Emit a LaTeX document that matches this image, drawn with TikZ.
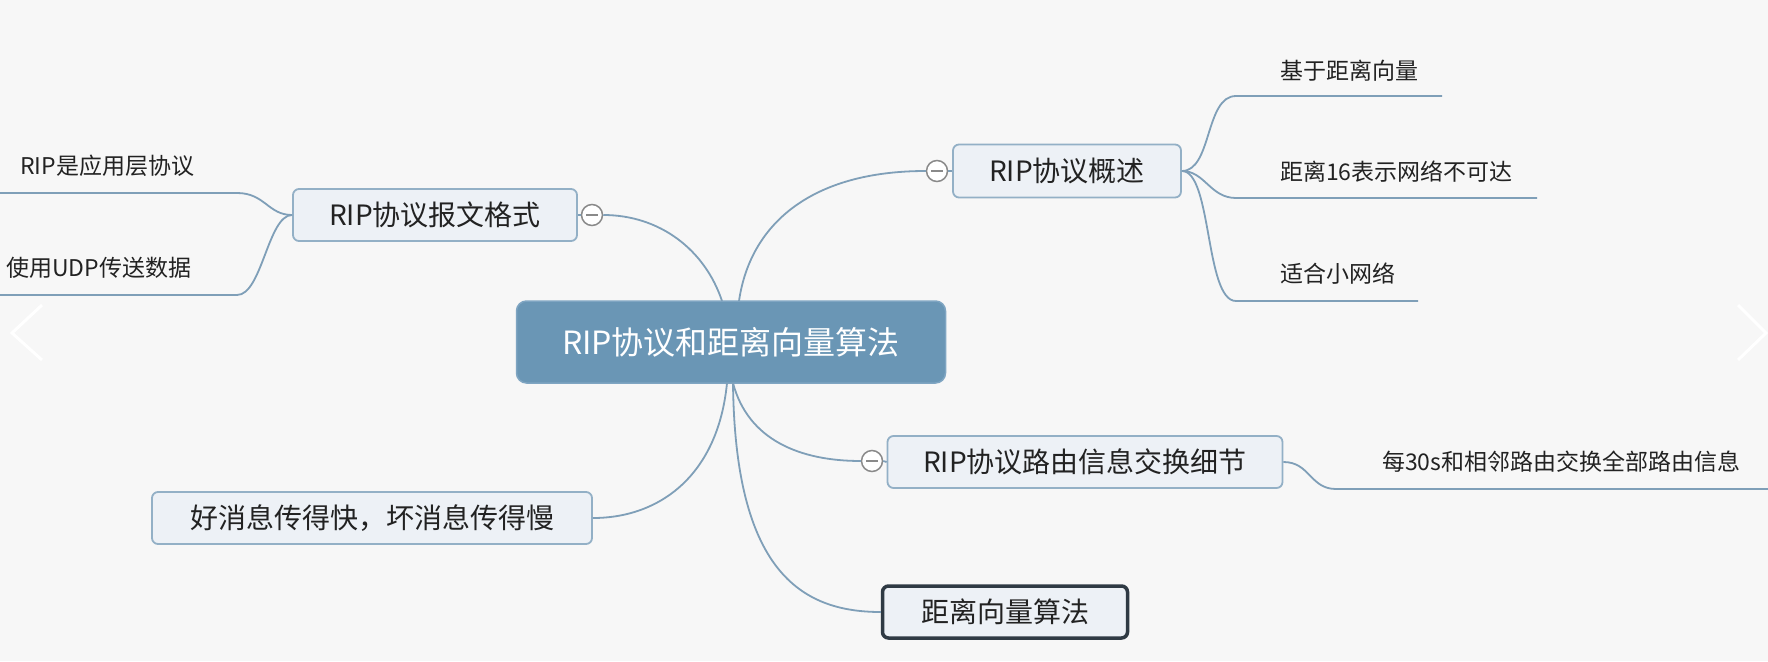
\documentclass[tikz,border=0pt]{standalone}
\usepackage{fontspec}
\newfontfamily\cjk{Noto Sans CJK SC}
\definecolor{bgc}{HTML}{F7F7F7}
\definecolor{conncol}{HTML}{7F9FB8}
\definecolor{nodefill}{HTML}{EDF1F6}
\definecolor{nodeborder}{HTML}{93B0C6}
\definecolor{centerfill}{HTML}{6A96B5}
\definecolor{centerborder}{HTML}{7FA5C2}
\definecolor{darkborder}{HTML}{2F3A44}
\definecolor{txt}{HTML}{222222}
\definecolor{circcol}{HTML}{8A8A8A}
\tikzset{
  conn/.style={draw=conncol, line width=1.8pt},
  topicbox/.style={draw=nodeborder, fill=nodefill, line width=1.8pt, rounded corners=6pt,
    inner sep=0pt, text=txt, font=\cjk\fontsize{28}{32}\selectfont},
  centerbox/.style={draw=centerborder, fill=centerfill, line width=1.5pt, rounded corners=10pt,
    inner sep=0pt, text=white, font=\cjk\fontsize{32}{36}\selectfont},
  leaftext/.style={inner sep=0pt, text=txt, font=\cjk\fontsize{23}{26}\selectfont},
  collapse/.style={circle, draw=circcol, fill=white, line width=1.5pt, minimum size=21pt, inner sep=0pt},
}
\begin{document}
\begin{tikzpicture}[x=1pt,y=-1pt]
\fill[bgc] (0,0) rectangle (1768,661);
\useasboundingbox (0,0) rectangle (1768,661);

% slideshow chevrons
\draw[white, line width=3pt] (42,305) -- (12,333) -- (42,360);
\draw[white, line width=3pt] (1738,305) -- (1766,333) -- (1738,360);

% central
\node[centerbox, minimum width=429pt, minimum height=82pt] (c) at (731,342) {RIP协议和距离向量算法};

% topics
\node[topicbox, minimum width=284pt, minimum height=52pt] (bw) at (435,215) {RIP协议报文格式};
\node[topicbox, minimum width=228pt, minimum height=53pt] (gs) at (1067,171) {RIP协议概述};
\node[topicbox, minimum width=395pt, minimum height=52pt] (ly) at (1085,462) {RIP协议路由信息交换细节};
\node[topicbox, minimum width=440pt, minimum height=52pt] (hx) at (372,518) {好消息传得快，坏消息传得慢};
\node[topicbox, draw=darkborder, line width=3.5pt, minimum width=245pt, minimum height=52pt] (jl) at (1005,612) {距离向量算法};

% collapse circles
\node[collapse] (cb) at (592,215) {};
\draw[circcol, line width=1.5pt] ([xshift=-6pt]cb.center) -- ([xshift=6pt]cb.center);
\node[collapse] (cg) at (937,171) {};
\draw[circcol, line width=1.5pt] ([xshift=-6pt]cg.center) -- ([xshift=6pt]cg.center);
\node[collapse] (cl) at (872,461) {};
\draw[circcol, line width=1.5pt] ([xshift=-6pt]cl.center) -- ([xshift=6pt]cl.center);

% central connectors
\coordinate (ct1) at (722,301);
\coordinate (ct2) at (739,301);
\coordinate (cb1) at (727,383);
\coordinate (cb2) at (733,383);
\draw[conn] (ct1) .. controls (705,250) and (660,215) .. (cb.east);
\draw[conn] (ct2) .. controls (750,225) and (810,171) .. (cg.west);
\draw[conn] (cb2) .. controls (748,440) and (800,461) .. (cl.west);
\draw[conn] (cb1) .. controls (718,475) and (660,518) .. (hx.east);
\draw[conn] (cb2) .. controls (735,570) and (800,612) .. (jl.west);
\draw[conn] (cb.west) -- (bw.east);
\draw[conn] (cg.east) -- (gs.west);
\draw[conn] (cl.east) -- (ly.west);

% leaves of RIP协议报文格式
\node[leaftext, anchor=west] (b1) at (20,166) {RIP是应用层协议};
\node[leaftext, anchor=west] (b2) at (6,268) {使用UDP传送数据};
\coordinate (b1s) at (237,193); \coordinate (b1e) at (0,193);
\coordinate (b2s) at (237,295); \coordinate (b2e) at (0,295);
\draw[conn] (bw.west) .. controls (268,215) and (265,193) .. (b1s) -- (b1e);
\draw[conn] (bw.west) .. controls (268,215) and (262,295) .. (b2s) -- (b2e);

% leaves of RIP协议概述
\node[leaftext, anchor=west] (g1) at (1280,71) {基于距离向量};
\node[leaftext, anchor=west] (g2) at (1280,172) {距离16表示网络不可达};
\node[leaftext, anchor=west] (g3) at (1280,274) {适合小网络};
\coordinate (g1s) at (1236,96);  \coordinate (g1e) at (1442,96);
\coordinate (g2s) at (1236,198); \coordinate (g2e) at (1537,198);
\coordinate (g3s) at (1236,301); \coordinate (g3e) at (1418,301);
\draw[conn] (gs.east) .. controls (1212,171) and (1205,96) .. (g1s) -- (g1e);
\draw[conn] (gs.east) .. controls (1205,171) and (1210,198) .. (g2s) -- (g2e);
\draw[conn] (gs.east) .. controls (1212,171) and (1205,301) .. (g3s) -- (g3e);

% leaf of RIP协议路由信息交换细节
\node[leaftext, anchor=west] (l1) at (1382,462) {每30s和相邻路由交换全部路由信息};
\coordinate (l1s) at (1336,489); \coordinate (l1e) at (1768,489);
\draw[conn] (ly.east) .. controls (1310,462) and (1310,489) .. (l1s) -- (l1e);
\end{tikzpicture}
\end{document}
